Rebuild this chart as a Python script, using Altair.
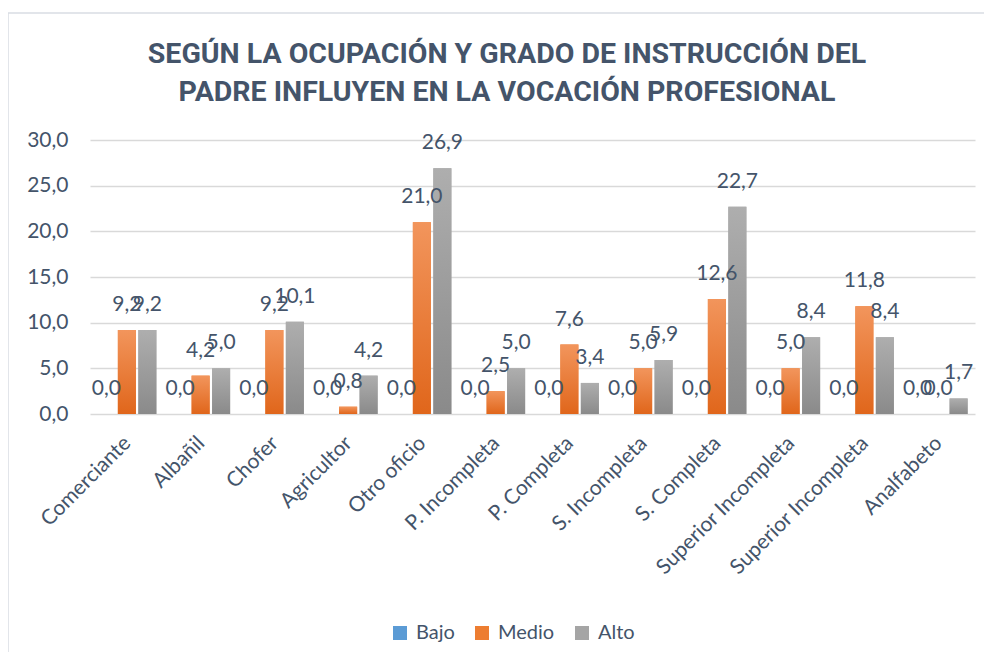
import json
import altair as alt
import pandas as pd

categorias = ["Comerciante", "Albañil", "Chofer", "Agricultor", "Otro oficio",
              "P. Incompleta", "P. Completa", "S. Incompleta", "S. Completa",
              "Superior Incompleta", "Superior Incompleta", "Analfabeto"]
bajo = [0.0, 0.0, 0.0, 0.0, 0.0, 0.0, 0.0, 0.0, 0.0, 0.0, 0.0, 0.0]
medio = [9.2, 4.2, 9.2, 0.8, 21.0, 2.5, 7.6, 5.0, 12.6, 5.0, 11.8, 0.0]
alto = [9.2, 5.0, 10.1, 4.2, 26.9, 5.0, 3.4, 5.9, 22.7, 8.4, 8.4, 1.7]
series = ["Bajo", "Medio", "Alto"]
colores = ["#5B9BD5", "#ED7D31", "#A5A5A5"]
y_ticks = [0, 5, 10, 15, 20, 25, 30]
titulo = ["SEGÚN LA OCUPACIÓN Y GRADO DE INSTRUCCIÓN DEL",
          "PADRE INFLUYEN EN LA VOCACIÓN PROFESIONAL"]

rows = []
for s, vals in zip(series, [bajo, medio, alto]):
    for i, (c, v) in enumerate(zip(categorias, vals)):
        rows.append({"idx": i, "cat": c, "serie": s, "valor": v,
                     "etiqueta": f"{v:.1f}".replace(".", ",")})
df = pd.DataFrame(rows)

TXT = "#44546A"
FONT = "Lato"
label_expr = json.dumps(categorias, ensure_ascii=False) + "[datum.value]"

x_enc = alt.X("idx:O", scale=alt.Scale(paddingInner=0.2, paddingOuter=0.1),
              axis=alt.Axis(title=None, labelExpr=label_expr, labelAngle=-45,
                            labelAlign="right", labelBaseline="top",
                            domain=False, ticks=False, grid=False,
                            labelFontSize=21, labelColor=TXT, labelFont=FONT,
                            labelPadding=18, labelOffset=-7, labelLimit=400))
y_enc = alt.Y("valor:Q", scale=alt.Scale(domain=[0, 30]),
              axis=alt.Axis(title=None, values=y_ticks,
                            labelExpr="replace(format(datum.value,'.1f'),'.',',')",
                            grid=True, gridColor="#D9D9D9", gridWidth=1.5,
                            domain=False, ticks=False, labelFontSize=21,
                            labelColor=TXT, labelFont=FONT, labelPadding=22))
xo_enc = alt.XOffset("serie:N", scale=alt.Scale(domain=series, paddingInner=0.12))

base = alt.Chart(df)

flat = base.mark_bar().encode(
    x=x_enc, y=y_enc, xOffset=xo_enc,
    color=alt.Color("serie:N", scale=alt.Scale(domain=series, range=colores),
                    legend=alt.Legend(title=None, orient="none", legendX=300, legendY=483,
                                      direction="horizontal", symbolType="square",
                                      symbolSize=196, symbolStrokeWidth=0,
                                      labelFontSize=20, labelColor=TXT, labelFont=FONT,
                                      columnPadding=17, labelOffset=6)),
)


def grad(top, bottom):
    return alt.Gradient(gradient="linear",
                        stops=[alt.GradientStop(color=top, offset=0),
                               alt.GradientStop(color=bottom, offset=1)],
                        x1=0, x2=0, y1=0, y2=1)


g_medio = base.transform_filter(alt.datum.serie == "Medio").mark_bar(
    fill=grad("#F2955C", "#E0661B")).encode(x=x_enc, y=y_enc, xOffset=xo_enc)
g_alto = base.transform_filter(alt.datum.serie == "Alto").mark_bar(
    fill=grad("#AEAEAE", "#8A8A8A")).encode(x=x_enc, y=y_enc, xOffset=xo_enc)

labels = base.mark_text(dy=-25, baseline="middle", fontSize=21, color=TXT, font=FONT).encode(
    x=x_enc, y=y_enc, xOffset=xo_enc, text="etiqueta:N")

one = pd.DataFrame({"a": [0]})
border = alt.Chart(one).mark_rect(
    filled=False, stroke="#D9DDE3", strokeWidth=1.5).encode(
    x=alt.value(-82), x2=alt.value(910), y=alt.value(-127), y2=alt.value(530))

title_layers = [
    alt.Chart(one).mark_text(
        fontSize=28.5, font="Roboto", fontWeight="bold",
        color=TXT, align="center", baseline="middle").encode(
        text=alt.value(linea), x=alt.value(417), y=alt.value(yy))
    for linea, yy in zip(titulo, [-86, -48])
]

chart = alt.layer(border, flat, g_medio, g_alto, labels, *title_layers).properties(
    width=885, height=274,
    autosize=alt.AutoSizeParams(type="none"),
    padding={"left": 82, "top": 132, "right": 9, "bottom": 238},
    background="white",
).configure_view(stroke=None)

chart.save("out.html", embed_options={"renderer": "svg", "actions": False})
